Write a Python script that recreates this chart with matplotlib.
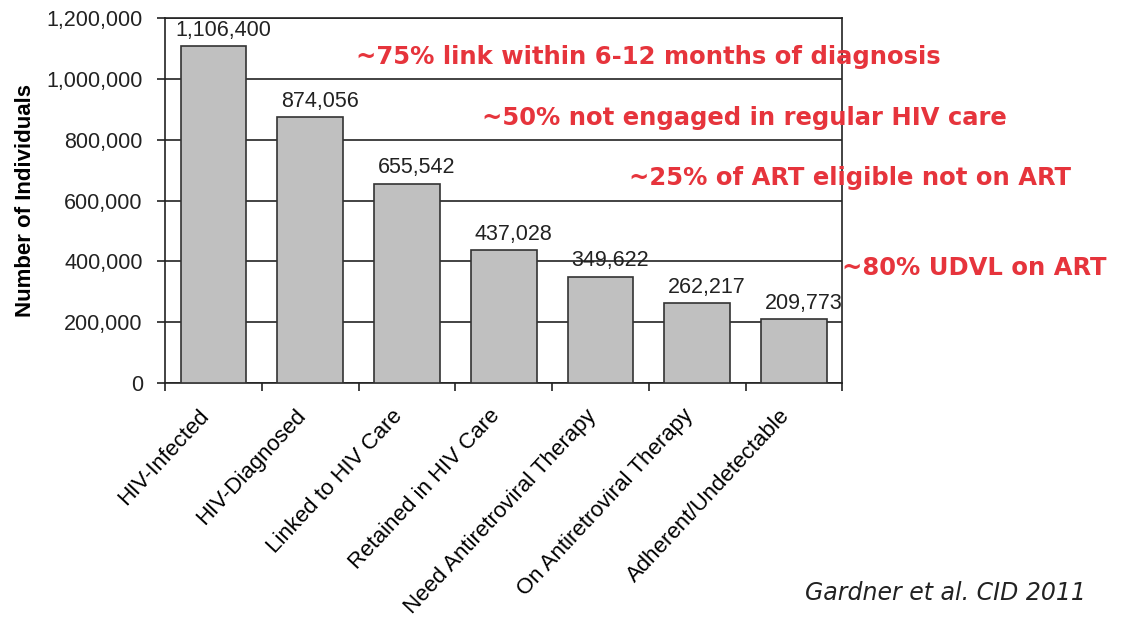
import numpy as np
import matplotlib.pyplot as plt
import matplotlib.transforms as mtransforms
from matplotlib.ticker import FuncFormatter

# HIV care cascade (Gardner et al. CID 2011)
stages = ['HIV-Infected', 'HIV-Diagnosed', 'Linked to HIV Care', 'Retained in HIV Care',
          'Need Antiretroviral Therapy', 'On Antiretroviral Therapy', 'Adherent/Undetectable']
counts = [1106400, 874056, 655542, 437028, 349622, 262217, 209773]

notes = ['~75% link within 6-12 months of diagnosis',
         '~50% not engaged in regular HIV care',
         '~25% of ART eligible not on ART',
         '~80% UDVL on ART']

plt.rcParams['font.family'] = ['Liberation Sans', 'DejaVu Sans']

fig = plt.figure(figsize=(11.23, 6.2), dpi=100)
ax = fig.add_axes([0.147, 0.382, 0.603, 0.589])

x = np.arange(len(stages))
ax.bar(x, counts, width=0.68, color='#c0c0c0', edgecolor='#333333', linewidth=1.2, zorder=3)
for xi, c in zip(x, counts):
    ax.text(xi + 0.1, c + 18000, f'{c:,}', ha='center', va='bottom', fontsize=15.5, color='#222222')

ax.set_xlim(-0.5, len(stages) - 0.5)
ax.set_ylim(0, 1200000)
ax.set_yticks(np.arange(0, 1200001, 200000))
ax.yaxis.set_major_formatter(FuncFormatter(lambda v, p: f'{int(v):,}'))
ax.yaxis.grid(True, color='#222222', linewidth=1.2, zorder=0)
ax.tick_params(axis='y', labelsize=15.5, length=6, width=1.2, colors='#222222', pad=10)

ax.set_xticks(x)
ax.set_xticklabels(stages, rotation=47, ha='right', rotation_mode='anchor', fontsize=16)
ax.tick_params(axis='x', which='major', length=0, pad=16)
ax.set_xticks(np.arange(-0.5, len(stages)), minor=True)
ax.tick_params(axis='x', which='minor', length=6, width=1.2, colors='#222222')
shift = mtransforms.ScaledTranslation(-0.15, 0, fig.dpi_scale_trans)
for lab in ax.get_xticklabels():
    lab.set_transform(lab.get_transform() + shift)

for s in ax.spines.values():
    s.set_color('#222222')
    s.set_linewidth(1.2)

ax.set_ylabel('Number of Individuals', fontsize=16, fontweight='bold')
ax.yaxis.set_label_coords(-0.19, 0.5)

red = '#e6343c'
note_pos = [(356, 57), (482, 118), (629, 178), (842, 268)]
for t, (px, py) in zip(notes, note_pos):
    fig.text(px / 1123, 1 - py / 620, t, color=red, fontsize=17.5, fontweight='bold',
             ha='left', va='center', family='DejaVu Sans', zorder=5)

fig.text(805 / 1123, 1 - 593 / 620, 'Gardner et al. CID 2011', fontsize=17, style='italic',
         ha='left', va='center', color='#222222', family='DejaVu Sans')

fig.savefig('out.png', dpi=100)
